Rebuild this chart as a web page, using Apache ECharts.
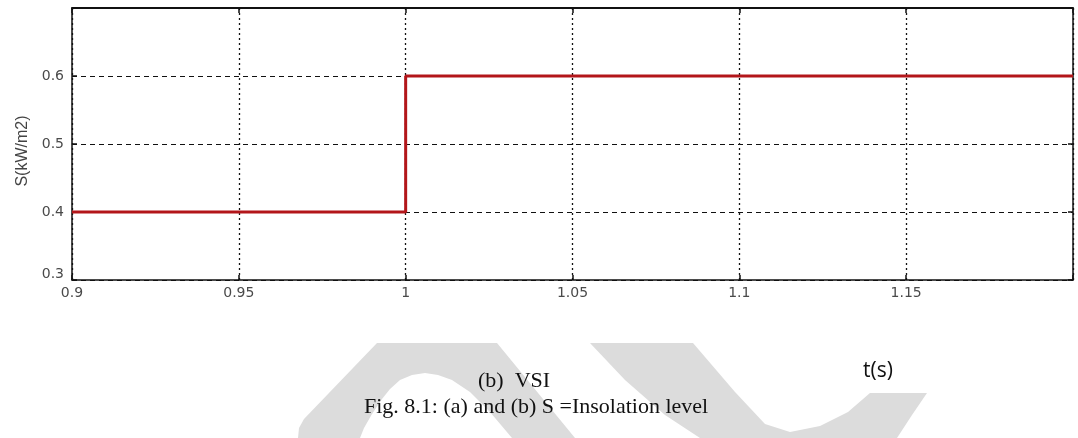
<!DOCTYPE html>
<html>
<head>
<meta charset="utf-8">
<script src="https://cdn.jsdelivr.net/npm/echarts@6/dist/echarts.min.js"></script>
<style>
html,body{margin:0;padding:0;background:#fff;}
#chart{width:1078px;height:438px;}
</style>
</head>
<body>
<div id="chart"></div>
<script>
// Data
var time = [0.9, 1.0, 1.0, 1.2];          // t(s)
var insolation = [0.4, 0.4, 0.6, 0.6];    // S (kW/m2)
var xTicks = [0.9, 0.95, 1, 1.05, 1.1, 1.15];
var yTicks = [0.3, 0.4, 0.5, 0.6];
var yName = 'S(kW/m2)';
var xName = 't(s)';
var subCaption = '(b)  VSI';
var caption = 'Fig. 8.1: (a) and (b) S =Insolation level';

var chart = echarts.init(document.getElementById('chart'));
var pts = time.map(function (t, i) { return [t, insolation[i]]; });

function fmt(list) {
  return function (v) {
    var r = Math.round(v * 1000) / 1000;
    return list.indexOf(r) >= 0 ? String(r) : '';
  };
}

var labelStyle = { fontFamily: 'DejaVu Sans', fontSize: 14, color: '#4a4a4a' };

var option = {
  animation: false,
  backgroundColor: '#fff',
  grid: { left: 72, top: 8, right: 5, bottom: 158, show: false },
  xAxis: [{
    type: 'value', min: 0.9, max: 1.2, interval: 0.05,
    axisLine: { show: true, onZero: false, lineStyle: { color: '#111', width: 1.5 } },
    axisTick: { show: true, inside: true, length: 5, lineStyle: { color: '#111', width: 1.5 } },
    axisLabel: Object.assign({ margin: 6, formatter: fmt(xTicks) }, labelStyle),
    splitLine: { show: true, lineStyle: { color: '#111', width: 1.3, type: [2, 3] } }
  }, {
    type: 'value', min: 0.9, max: 1.2, interval: 0.05, position: 'top',
    axisLine: { show: true, onZero: false, lineStyle: { color: '#111', width: 1.8 } },
    axisTick: { show: true, inside: true, length: 5, lineStyle: { color: '#111', width: 1.5 } },
    axisLabel: { show: false }, splitLine: { show: false }
  }],
  yAxis: [{
    type: 'value', min: 0.3, max: 0.7, interval: 0.1,
    name: yName, nameLocation: 'middle', nameGap: 40,
    nameTextStyle: { fontFamily: 'Liberation Sans', fontSize: 16, color: '#444', padding: [0, 0, 0, -14] },
    axisLine: { show: true, onZero: false, lineStyle: { color: '#111', width: 1.5 } },
    axisTick: { show: true, inside: true, length: 5, lineStyle: { color: '#111', width: 1.5 } },
    axisLabel: Object.assign({
      margin: 8,
      formatter: function (v) {
        var r = Math.round(v * 1000) / 1000;
        if (r === 0.3) return '{low|0.3}';
        return yTicks.indexOf(r) >= 0 ? String(r) : '';
      },
      rich: { low: { fontFamily: 'DejaVu Sans', fontSize: 14, color: '#4a4a4a', padding: [0, 0, 12, 0] } }
    }, labelStyle),
    splitLine: { show: true, lineStyle: { color: '#111', width: 1.2, type: [5, 4] } }
  }, {
    type: 'value', min: 0.3, max: 0.7, interval: 0.1, position: 'right',
    axisLine: { show: true, onZero: false, lineStyle: { color: '#111', width: 1.5 } },
    axisTick: { show: true, inside: true, length: 5, lineStyle: { color: '#111', width: 1.5 } },
    axisLabel: { show: false }, splitLine: { show: false }
  }],
  series: [{
    type: 'line', data: pts, xAxisIndex: 0, yAxisIndex: 0,
    showSymbol: false, symbol: 'none',
    lineStyle: { color: '#b3161a', width: 3 },
    z: 5
  }],
  graphic: [
    { type: 'polygon', z: -10, silent: true,
      shape: { points: [[298,438],[299,428],[304,419],[377,343],[497,343],[575,438],[512,438],[490,412],[470,392],[452,380],[438,375],[425,373],[412,375],[400,380],[390,389],[382,399],[372,414],[364,428],[360,438]] },
      style: { fill: '#dcdcdc' } },
    { type: 'polygon', z: -10, silent: true,
      shape: { points: [[590,343],[625,380],[665,415],[700,438],[897,438],[912,415],[927,393],[870,393],[848,412],[820,426],[790,432],[765,424],[735,392],[693,343]] },
      style: { fill: '#dcdcdc' } },
    { type: 'text', left: 863, top: 361, z: 10,
      style: { text: xName, fontFamily: 'Open Sans', fontSize: 21, fill: '#111' } },
    { type: 'text', left: 478, top: 370, z: 10,
      style: { text: subCaption, fontFamily: 'Liberation Serif', fontSize: 22, fill: '#111' } },
    { type: 'text', left: 364, top: 396, z: 10,
      style: { text: caption, fontFamily: 'Liberation Serif', fontSize: 22, fill: '#111' } }
  ]
};
chart.setOption(option);
</script>
</body>
</html>
